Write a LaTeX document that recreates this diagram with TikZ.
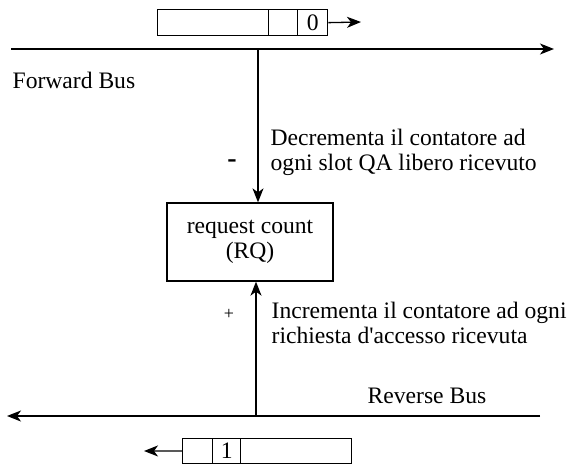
\documentclass[tikz,border=0pt]{standalone}
\usepackage{fontspec}
\setmainfont{Liberation Serif}
\usetikzlibrary{arrows.meta}
\begin{document}
\begin{tikzpicture}[x=1pt,y=-1pt,
  line width=1.3pt,
  every node/.style={font=\fontsize{23.6}{25}\selectfont},
  cell/.style={draw,minimum height=26pt,inner sep=0pt,anchor=north west},
  arr/.style={-{Stealth[length=14pt,width=11pt,inset=4pt]}},
  lbl/.style={inner sep=0pt,align=left,anchor=north west},
  rq/.style={draw,minimum width=166pt,minimum height=78pt,inner sep=0pt,align=center}]
\useasboundingbox (0,0) rectangle (573,464);
% top slot
\node[cell,minimum width=111pt] (t1) at (157,9) {};
\node[cell,minimum width=29pt] (t2) at (268,9) {};
\node[cell,minimum width=30pt] (t3) at (297,9) {0};
\coordinate (tend) at (361,22);
\draw[arr] (t3.east) -- (tend);
% forward bus
\coordinate (fb1) at (11,49);
\coordinate (fb2) at (554,49);
\draw[arr] (fb1) -- (fb2);
\node[inner sep=0pt,anchor=base west] (fwd) at (12,88) {Forward Bus};
% RQ box
\node[rq] (rq) at (250,242) {request count\\(RQ)};
\coordinate (ftap) at (258,49);
\draw[arr] (ftap) -- (ftap |- rq.north);
\node[lbl] (dec) at (270,128) {Decrementa il contatore ad\\ogni slot QA libero ricevuto};
\node[inner sep=0pt,font=\fontsize{28}{28}\bfseries] (minus) at (232,164) {-};
% reverse bus
\coordinate (rb1) at (540,416);
\coordinate (rb2) at (7,416);
\draw[arr] (rb1) -- (rb2);
\node[inner sep=0pt,anchor=base west] (rev) at (367,403) {Reverse Bus};
\coordinate (rtap) at (256,416);
\draw[arr] (rtap) -- (rtap |- rq.south);
\node[lbl] (inc) at (271,301) {Incrementa il contatore ad ogni\\richiesta d\textquotesingle accesso ricevuta};
\node[inner sep=0pt,font=\fontsize{18}{18}\selectfont] (plus) at (229,314) {+};
% bottom slot
\node[cell,minimum width=30pt,minimum height=25.5pt] (b1) at (182,437.5) {};
\node[cell,minimum width=28pt,minimum height=25.5pt] (b2) at (212,437.5) {1};
\node[cell,minimum width=111pt,minimum height=25.5pt] (b3) at (240,437.5) {};
\coordinate (bend) at (144,451);
\draw[arr] (b1.west) -- (bend);
\end{tikzpicture}
\end{document}
